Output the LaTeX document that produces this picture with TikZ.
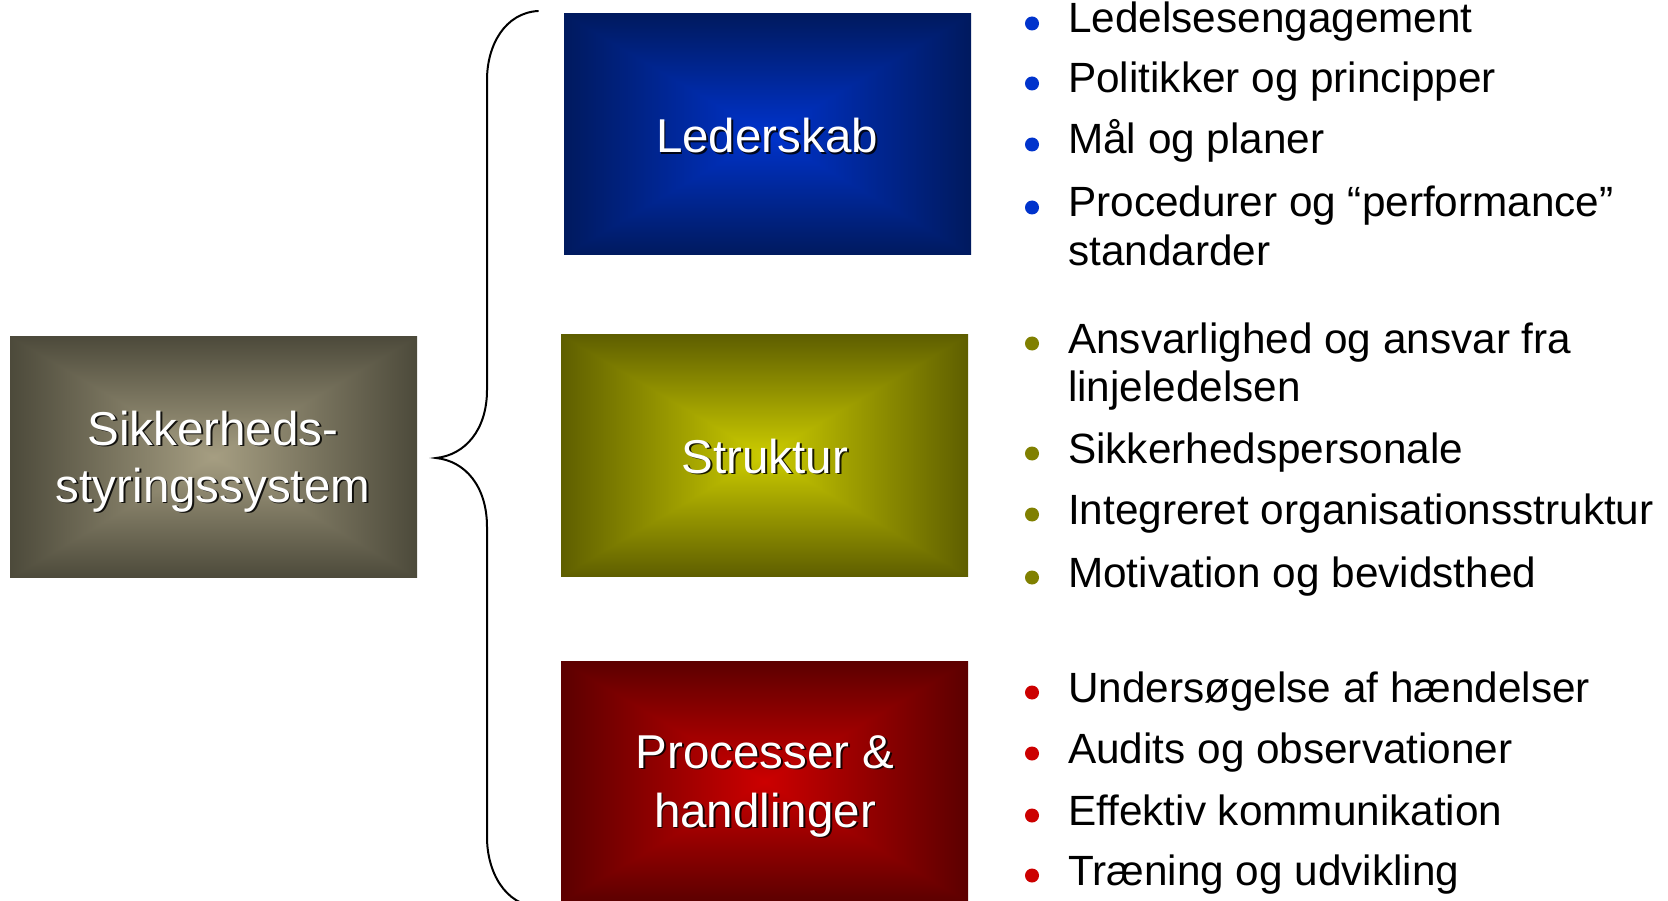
\documentclass[tikz,border=0pt]{standalone}
\usepackage{fontspec}
\setmainfont{Liberation Sans}
\definecolor{bblue}{HTML}{0033CC}
\definecolor{bolive}{HTML}{808000}
\definecolor{bred}{HTML}{CC0000}
% rectangular "from centre" gradient: name, centre r g b, (centre - edge) r g b
\newcommand{\rectshading}[7]{%
\pgfdeclarefunctionalshading{#1}{\pgfpoint{0bp}{0bp}}{\pgfpoint{100bp}{100bp}}{}{%
50 sub abs exch 50 sub abs 2 copy sub abs add add 50 div
dup 1 sub abs neg add 1 add 2 div
dup dup #5 mul #2 exch sub 3 1 roll #6 mul #3 exch sub exch #7 mul #4 exch sub}}
\rectshading{gblue}{0}{0.2}{0.8}{0}{0.1}{0.43}
\rectshading{gyellow}{0.8}{0.8}{0}{0.43}{0.43}{0}
\rectshading{gred}{0.8}{0}{0}{0.44}{0}{0}
\rectshading{ggray}{0.65}{0.62}{0.51}{0.35}{0.33}{0.28}
\tikzset{
  panel/.style={shade, shading=#1, minimum width=407pt, minimum height=241pt, inner sep=0pt, outer sep=0pt},
  boxtxt/.style={anchor=base, text=white, inner sep=0pt, font=\fontsize{47.5}{58}\selectfont},
  boxshadow/.style={anchor=base, text=black, opacity=0.85, inner sep=0pt, font=\fontsize{47.5}{58}\selectfont},
  itemtxt/.style={anchor=base west, inner sep=0pt, text=black, font=\fontsize{42.3}{48.5}\selectfont},
  bul/.style={circle, fill=#1, draw=none, minimum size=14pt, inner sep=0pt},
  brace/.style={draw=black, line width=2pt, line cap=round},
}
\newcommand{\shtext}[3]{%
  \node[boxshadow] (#1s) at ([shift={(1.8,1.8)}]#2) {#3};
  \node[boxtxt] (#1) at (#2) {#3};}
\begin{document}
\begin{tikzpicture}[x=1pt, y=-1pt]
\useasboundingbox[fill=white] (0,0) rectangle (1668,901);
% panels
\node[panel=ggray]   (sys)  at (213.5,457)   {};
\node[panel=gblue]   (lead) at (767.5,134.5) {};
\node[panel=gyellow] (str)  at (764.5,455.5) {};
\node[panel=gred]    (proc) at (764.5,781.5) {};
% panel texts
\shtext{sysA}{213,445}{Sikkerheds-}
\shtext{sysB}{213,502}{styringssystem}
\shtext{leadT}{767,153}{Lederskab}
\shtext{strT}{765,473}{Struktur}
\shtext{procA}{765,768}{Processer \&}
\shtext{procB}{765,827}{handlinger}
% brace
\coordinate (bTop) at (538,11);
\coordinate (bTip) at (436,458);
\coordinate (bBot) at (538,907);
\draw[brace] (bTop) .. controls (505,13) and (487,45) .. (487,80)
  -- (487,390) .. controls (487,430) and (465,455) .. (bTip)
  .. controls (465,461) and (487,486) .. (487,527)
  -- (487,837) .. controls (487,872) and (505,905) .. (bBot);
% items: leadership
\node[bul=bblue] (l1b) at (1032,23.5) {};
\node[itemtxt] (l1) at (1068,33) {Ledelsesengagement};
\node[bul=bblue] (l2b) at (1032,83.5) {};
\node[itemtxt] (l2) at (1068,93) {Politikker og principper};
\node[bul=bblue] (l3b) at (1032,144.5) {};
\node[itemtxt] (l3) at (1068,154) {Mål og planer};
\node[bul=bblue] (l4b) at (1032,207.5) {};
\node[itemtxt] (l4) at (1068,217) {Procedurer og “performance”};
\node[itemtxt] (l4c) at (1068,265.5) {standarder};
% items: structure
\node[bul=bolive] (s1b) at (1032,343.5) {};
\node[itemtxt] (s1) at (1068,353) {Ansvarlighed og ansvar fra};
\node[itemtxt] (s1c) at (1068,401.5) {linjeledelsen};
\node[bul=bolive] (s2b) at (1032,453.5) {};
\node[itemtxt] (s2) at (1068,463) {Sikkerhedspersonale};
\node[bul=bolive] (s3b) at (1032,514.5) {};
\node[itemtxt] (s3) at (1068,524) {Integreret organisationsstruktur};
\node[bul=bolive] (s4b) at (1032,577.5) {};
\node[itemtxt] (s4) at (1068,587) {Motivation og bevidsthed};
% items: processes
\node[bul=bred] (p1b) at (1032,692.5) {};
\node[itemtxt] (p1) at (1068,702) {Undersøgelse af hændelser};
\node[bul=bred] (p2b) at (1032,753.5) {};
\node[itemtxt] (p2) at (1068,763) {Audits og observationer};
\node[bul=bred] (p3b) at (1032,815.5) {};
\node[itemtxt] (p3) at (1068,825) {Effektiv kommunikation};
\node[bul=bred] (p4b) at (1032,875.5) {};
\node[itemtxt] (p4) at (1068,885) {Træning og udvikling};
\end{tikzpicture}
\end{document}
